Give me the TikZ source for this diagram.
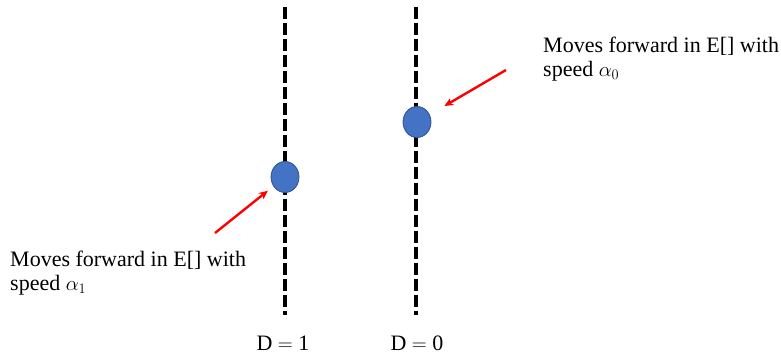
\documentclass[tikz,border=0pt]{standalone}
\usepackage{fontspec}
\setmainfont{Liberation Serif}
\usepackage{xcolor}
\usetikzlibrary{arrows.meta, positioning, shapes.geometric}
\definecolor{ballfill}{HTML}{4472C4}
\definecolor{balledge}{HTML}{2F528F}
\definecolor{pointred}{HTML}{FF0000}
\tikzset{
  track/.style={line width=4pt, dash pattern=on 12pt off 4pt, draw=black},
  ball/.style={ellipse, draw=balledge, fill=ballfill, line width=0.8pt,
               minimum width=28pt, minimum height=31pt, inner sep=0pt},
  pointer/.style={-{Stealth[length=9pt, width=8pt]}, line width=2.4pt, draw=pointred},
  note/.style={align=left, font=\fontsize{22}{24}\selectfont, inner sep=0pt},
  dlbl/.style={font=\fontsize{22}{24}\selectfont, inner sep=0pt},
}
\begin{document}
\begin{tikzpicture}[x=1pt, y=-1pt]
  \useasboundingbox (0,0) rectangle (781,355);
  % tracks
  \coordinate (t1top) at (285,7);
  \coordinate (t1bot) at (285,315);
  \coordinate (t0top) at (416,7);
  \coordinate (t0bot) at (416,315);
  \draw[track] (t1top) -- (t1bot);
  \draw[track] (t0top) -- (t0bot);
  % balls
  \node[ball] (b1) at (285,177) {};
  \node[ball] (b0) at (417,122) {};
  % notes
  \node[note, anchor=north west] (n1) at (10,251)
    {Moves forward in E[] with\\speed $\alpha_1$};
  \node[note, anchor=north west] (n0) at (543,37)
    {Moves forward in E[] with\\speed $\alpha_0$};
  % pointers
  \coordinate (p1) at (215,233);
  \coordinate (p0) at (506,70);
  \draw[pointer, shorten >=7pt] (p1) -- (b1);
  \draw[pointer, shorten >=17pt] (p0) -- (b0);
  % labels
  \node[dlbl, anchor=base] (d1) at (283,350) {D $=$ 1};
  \node[dlbl, anchor=base] (d0) at (417,350) {D $=$ 0};
\end{tikzpicture}
\end{document}
